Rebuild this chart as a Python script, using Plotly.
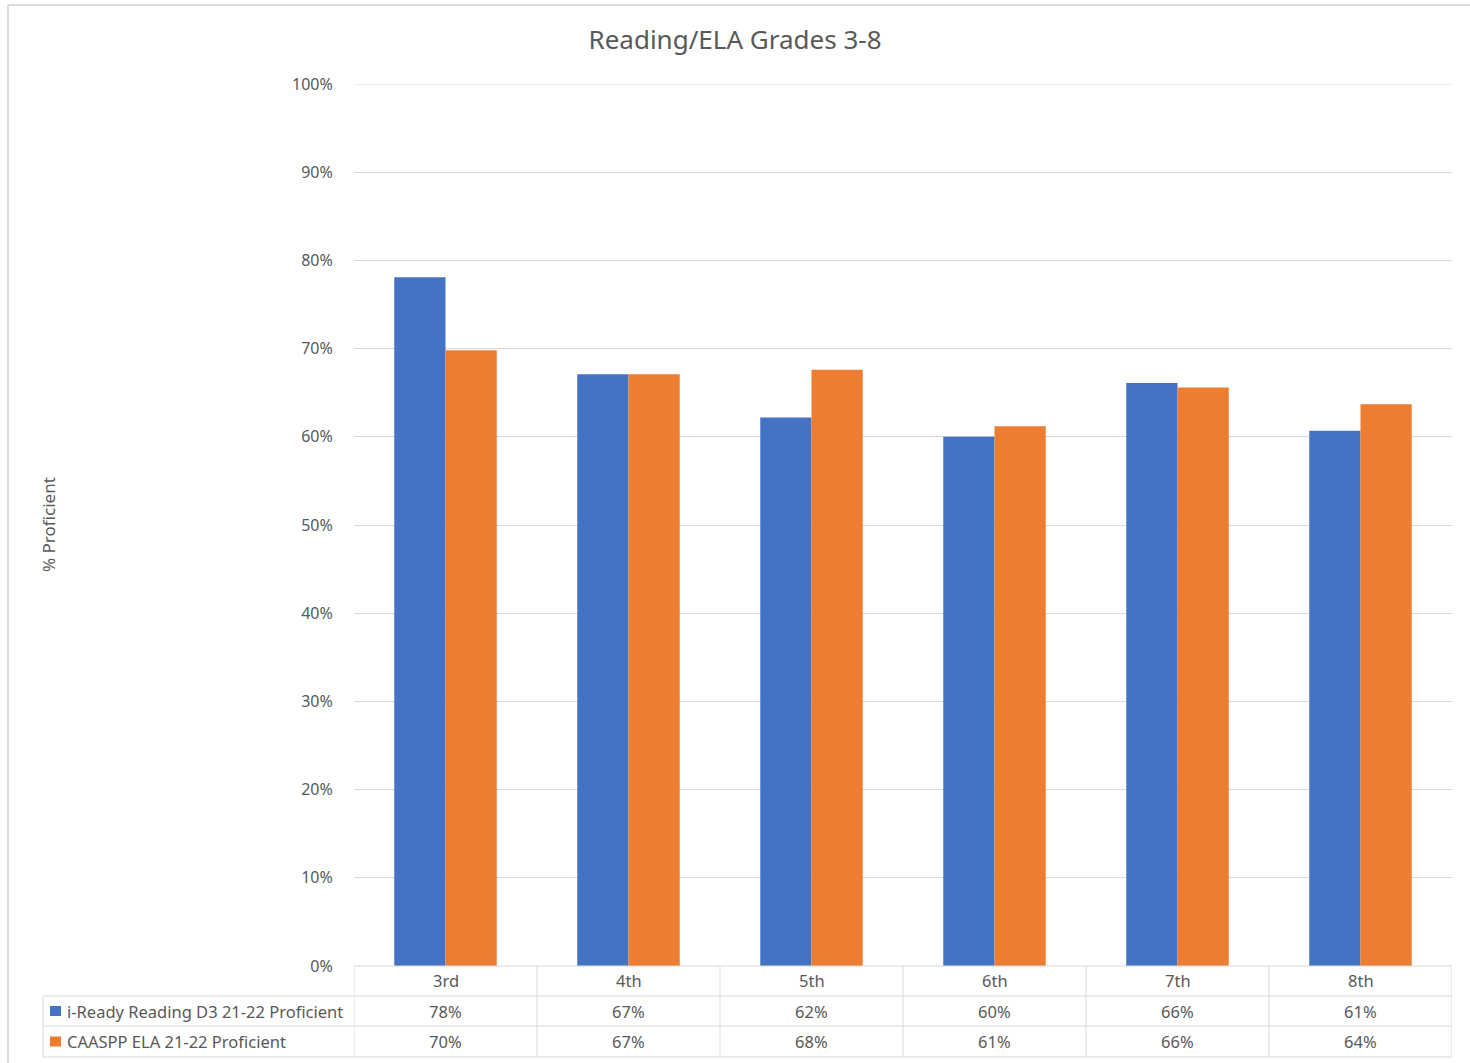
import plotly.graph_objects as go

categories = ["3rd", "4th", "5th", "6th", "7th", "8th"]
series_names = ["i-Ready Reading D3 21-22 Proficient", "CAASPP ELA 21-22 Proficient"]
iready = [0.781, 0.671, 0.622, 0.600, 0.661, 0.607]
caaspp = [0.698, 0.671, 0.676, 0.612, 0.656, 0.637]
y_ticks = [0, 0.1, 0.2, 0.3, 0.4, 0.5, 0.6, 0.7, 0.8, 0.9, 1.0]
colors = ["#4472C4", "#ED7D31"]

W, H = 1470, 1063
L, R, T, B = 354, 18, 84, 97
PW, PH = W - L - R, H - T - B
FONT = "Noto Sans, Open Sans, sans-serif"
GRAY = "#595959"
LINE = "#d9d9d9"


def px_x(px):
    return (px - L) / PW


def px_y(py):
    return (H - B - py) / PH


fig = go.Figure()
for name, vals, c in zip(series_names, [iready, caaspp], colors):
    fig.add_trace(go.Bar(x=categories, y=vals, name=name, marker=dict(color=c, line=dict(width=0))))

shapes = []
annotations = []

# top gridline (at the edge of the range, which plotly does not draw)
shapes.append(dict(type="line", xref="paper", yref="y", x0=0, x1=1, y0=y_ticks[-1], y1=y_ticks[-1],
                   line=dict(color=LINE, width=1), layer="below"))

# table geometry (pixels)
row_edges = [966, 996, 1026, 1057]
table_left = 43
n = len(categories)

# horizontal lines
shapes.append(dict(type="line", xref="x", yref="paper", x0=-0.5, x1=n - 0.5,
                   y0=px_y(row_edges[0]), y1=px_y(row_edges[0]), line=dict(color=LINE, width=1)))
for ry in row_edges[1:]:
    shapes.append(dict(type="line", xref="paper", yref="paper", x0=px_x(table_left), x1=1,
                       y0=px_y(ry), y1=px_y(ry), line=dict(color=LINE, width=1)))
# vertical lines
shapes.append(dict(type="line", xref="paper", yref="paper", x0=px_x(table_left), x1=px_x(table_left),
                   y0=px_y(row_edges[1]), y1=px_y(row_edges[3]), line=dict(color=LINE, width=1)))
for i in range(n + 1):
    shapes.append(dict(type="line", xref="x", yref="paper", x0=i - 0.5, x1=i - 0.5,
                       y0=px_y(row_edges[0]), y1=px_y(row_edges[3]), line=dict(color=LINE, width=1)))

TFS = 16.5
# header row labels
for c in categories:
    annotations.append(dict(x=c, y=px_y((row_edges[0] + row_edges[1]) / 2), xref="x", yref="paper",
                            text=c, showarrow=False, font=dict(family=FONT, size=TFS, color=GRAY),
                            xanchor="center", yanchor="middle"))
# data rows
for r, (name, vals, col) in enumerate(zip(series_names, [iready, caaspp], colors)):
    cy = (row_edges[r + 1] + row_edges[r + 2]) / 2
    shapes.append(dict(type="rect", xref="paper", yref="paper", x0=px_x(50), x1=px_x(61),
                       y0=px_y(cy + 5), y1=px_y(cy - 5), fillcolor=col, line=dict(width=0)))
    annotations.append(dict(x=px_x(65), y=px_y(cy), xref="paper", yref="paper", text=name,
                            showarrow=False, font=dict(family=FONT, size=TFS, color=GRAY),
                            xanchor="left", yanchor="middle"))
    for c, v in zip(categories, vals):
        annotations.append(dict(x=c, y=px_y(cy), xref="x", yref="paper", text=f"{round(v * 100):d}%",
                                showarrow=False, font=dict(family=FONT, size=TFS, color=GRAY),
                                xanchor="center", yanchor="middle"))

# y-axis title
annotations.append(dict(x=px_x(48), y=0.5, xref="paper", yref="paper", text="% Proficient",
                        textangle=-90, showarrow=False, font=dict(family=FONT, size=17, color=GRAY),
                        xanchor="center", yanchor="middle"))

# outer chart frame (top and left edges)
shapes.append(dict(type="line", xref="paper", yref="paper", x0=px_x(8), x1=px_x(1470),
                   y0=px_y(5), y1=px_y(5), line=dict(color="#d0d0d0", width=1.5)))
shapes.append(dict(type="line", xref="paper", yref="paper", x0=px_x(8), x1=px_x(8),
                   y0=px_y(5), y1=px_y(1063), line=dict(color="#d0d0d0", width=1.5)))

fig.update_layout(
    width=W, height=H,
    margin=dict(l=L, r=R, t=T, b=B, autoexpand=False),
    paper_bgcolor="white", plot_bgcolor="white",
    title=dict(text="Reading/ELA Grades 3-8", x=0.5, xref="container", xanchor="center",
               y=1 - 40 / H, yref="container", yanchor="middle",
               font=dict(family=FONT, size=26, color=GRAY)),
    barmode="group", bargap=0.44, bargroupgap=0,
    showlegend=False,
    shapes=shapes, annotations=annotations,
    xaxis=dict(showticklabels=False, showgrid=False, zeroline=False, showline=False, ticks="",
               range=[-0.5, n - 0.5]),
    yaxis=dict(range=[0, 1], tickvals=y_ticks, tickformat=".0%", showgrid=True, gridcolor=LINE,
               gridwidth=1, zeroline=False, showline=False, ticks="outside", ticklen=17,
               tickcolor="rgba(0,0,0,0)", tickfont=dict(family=FONT, size=16, color=GRAY)),
)

fig.write_html("out.html", config={"displayModeBar": False},
               post_script="document.body.style.margin='0';")
